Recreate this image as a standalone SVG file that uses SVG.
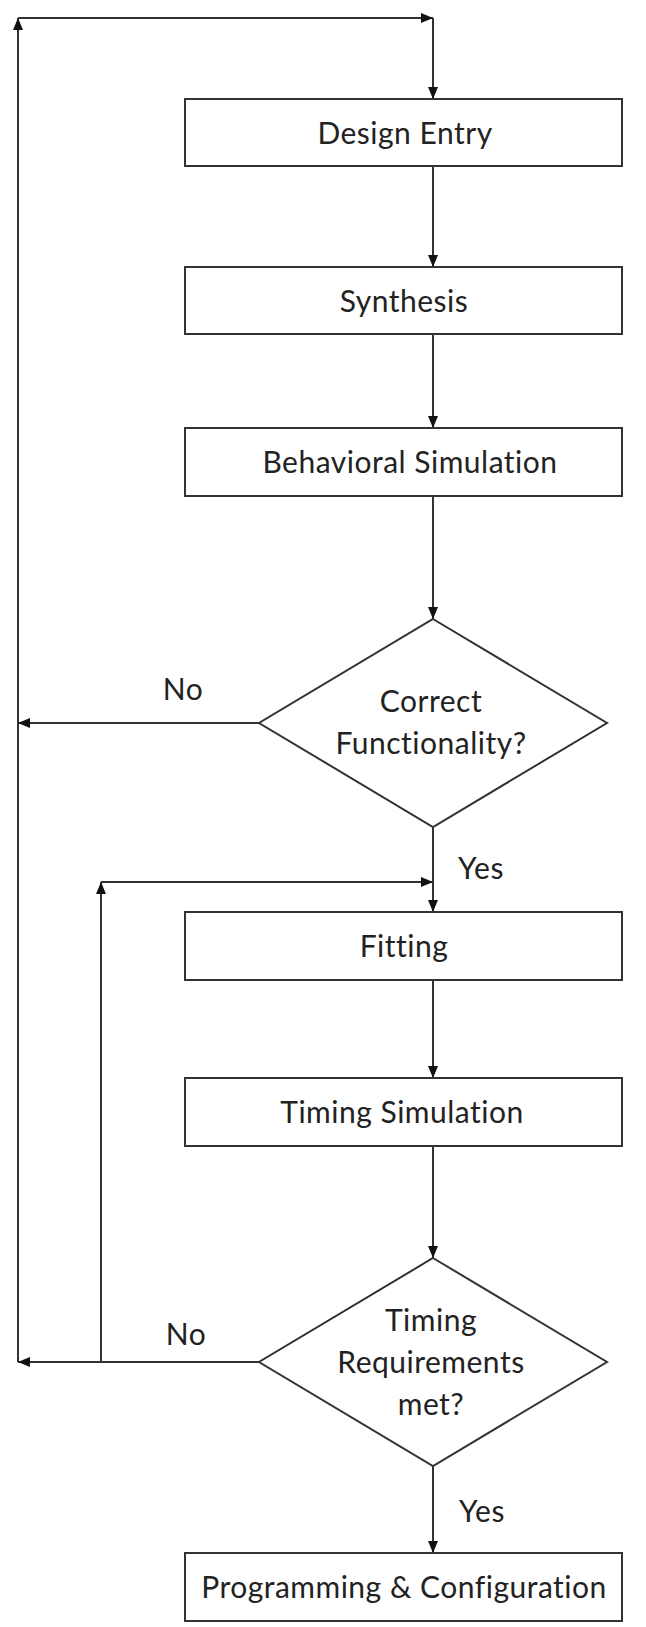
<svg xmlns="http://www.w3.org/2000/svg" width="646" height="1627" viewBox="0 0 646 1627">
<style>
.box{fill:#fff;stroke:#333;stroke-width:2}
.ln{fill:none;stroke:#333;stroke-width:2;marker-end:url(#ah)}
.t{font-family:Lato,"Open Sans",sans-serif;font-size:30px;letter-spacing:0.5px;fill:#222;text-anchor:middle}
</style>
<defs>
<marker id="ah" markerWidth="12" markerHeight="10" refX="12" refY="5" orient="auto" markerUnits="userSpaceOnUse">
<path d="M0,0 L12,5 L0,10 Z" fill="#111"/>
</marker>
</defs>
<rect width="646" height="1627" fill="#fff"/>
<g id="connectors">
<line class="ln" x1="18" y1="1362" x2="18" y2="18"/>
<line class="ln" x1="18" y1="18" x2="433" y2="18"/>
<line class="ln" x1="433" y1="18" x2="433" y2="99"/>
<line class="ln" x1="433" y1="166" x2="433" y2="267"/>
<line class="ln" x1="433" y1="334" x2="433" y2="428"/>
<line class="ln" x1="433" y1="496" x2="433" y2="619"/>
<line class="ln" x1="259" y1="723" x2="18" y2="723"/>
<line class="ln" x1="433" y1="827" x2="433" y2="912"/>
<line class="ln" x1="101" y1="1362" x2="101" y2="882"/>
<line class="ln" x1="101" y1="882" x2="433" y2="882"/>
<line class="ln" x1="433" y1="980" x2="433" y2="1078"/>
<line class="ln" x1="433" y1="1146" x2="433" y2="1258"/>
<line class="ln" x1="259" y1="1362" x2="18" y2="1362"/>
<line class="ln" x1="433" y1="1466" x2="433" y2="1553"/>
<text class="t" x="183" y="700">No</text>
<text class="t" x="481" y="879">Yes</text>
<text class="t" x="186" y="1345">No</text>
<text class="t" x="482" y="1522">Yes</text>
</g>
<g id="design-entry">
<rect class="box" x="185" y="99" width="437" height="67"/>
<text class="t" x="405" y="144">Design Entry</text>
</g>
<g id="synthesis">
<rect class="box" x="185" y="267" width="437" height="67"/>
<text class="t" x="404" y="312">Synthesis</text>
</g>
<g id="behavioral-simulation">
<rect class="box" x="185" y="428" width="437" height="68"/>
<text class="t" x="410" y="473">Behavioral Simulation</text>
</g>
<g id="correct-functionality">
<polygon class="box" points="433,619 607,723 433,827 259,723"/>
<text class="t" x="431" y="712">Correct</text>
<text class="t" x="431" y="754">Functionality?</text>
</g>
<g id="fitting">
<rect class="box" x="185" y="912" width="437" height="68"/>
<text class="t" x="404" y="957">Fitting</text>
</g>
<g id="timing-simulation">
<rect class="box" x="185" y="1078" width="437" height="68"/>
<text class="t" x="402" y="1123">Timing Simulation</text>
</g>
<g id="timing-requirements">
<polygon class="box" points="433,1258 607,1362 433,1466 259,1362"/>
<text class="t" x="431" y="1331">Timing</text>
<text class="t" x="431" y="1373">Requirements</text>
<text class="t" x="431" y="1415">met?</text>
</g>
<g id="programming">
<rect class="box" x="185" y="1553" width="437" height="68"/>
<text class="t" x="404" y="1598">Programming &amp; Configuration</text>
</g>
</svg>
